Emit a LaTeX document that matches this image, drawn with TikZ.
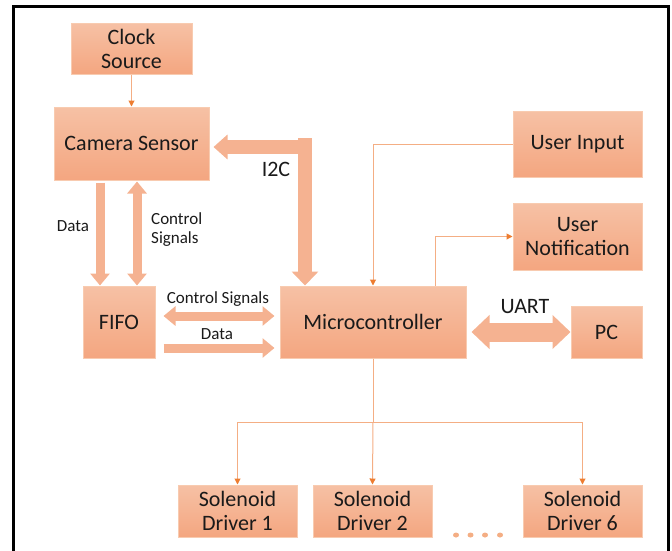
\documentclass[tikz,border=0pt]{standalone}
\usepackage{fontspec}
\setmainfont{Carlito}
\usetikzlibrary{arrows.meta,calc}

\definecolor{boxtop}{HTML}{F6C1A5}
\definecolor{boxbot}{HTML}{F4A680}
\definecolor{boxline}{HTML}{F8CBB0}
\definecolor{fatarrow}{HTML}{F5B291}
\definecolor{wire}{HTML}{F4AE84}
\definecolor{wiretip}{HTML}{ED7D31}
\definecolor{ink}{HTML}{1A1A1A}

\tikzset{
  block/.style={draw=boxline, line width=1pt, top color=boxtop, bottom color=boxbot,
    inner sep=0pt, text=ink, align=center, font=\fontsize{22}{24}\selectfont},
  lbl/.style={text=ink, inner sep=0pt, anchor=base, font=\fontsize{17}{19}\selectfont},
  biglbl/.style={text=ink, inner sep=0pt, anchor=base, font=\fontsize{22}{24}\selectfont},
  wireline/.style={draw=wire, line width=1pt, -{Triangle[length=6pt,width=6pt,color=wiretip]}},
  busline/.style={draw=wire, line width=1pt},
  fat/.style={draw=fatarrow, line width=9pt, -{Triangle[length=12pt,width=19pt]}},
  fatboth/.style={draw=fatarrow, line width=9pt, {Triangle[length=12pt,width=19pt]}-{Triangle[length=12pt,width=19pt]}},
}

\begin{document}
\begin{tikzpicture}[x=1pt,y=-1pt]
\useasboundingbox (0,0) rectangle (672,550);

% outer frame
\draw[line width=3pt] (13,6) rectangle (668.5,620);

% blocks
\node[block, minimum width=121pt, minimum height=51pt] (clk) at (131.5,48.5) {Clock\\Source};
\node[block, minimum width=155pt, minimum height=73pt] (cam) at (131.5,143.5) {Camera Sensor};
\node[block, minimum width=129pt, minimum height=66pt] (ui) at (577.5,144) {User Input};
\node[block, minimum width=129pt, minimum height=67pt] (un) at (577.5,236.5) {User\\Notification};
\node[block, minimum width=72pt, minimum height=72pt] (fifo) at (119,322) {FIFO};
\node[block, minimum width=186pt, minimum height=72pt] (mcu) at (373,322) {Microcontroller};
\node[block, minimum width=71pt, minimum height=52pt] (pc) at (606.5,332) {PC};
\node[block, minimum width=119pt, minimum height=52pt] (d1) at (237.5,511) {Solenoid\\Driver 1};
\node[block, minimum width=119pt, minimum height=52pt] (d2) at (372.5,511) {Solenoid\\Driver 2};
\node[block, minimum width=119pt, minimum height=52pt] (d6) at (582.5,511) {Solenoid\\Driver 6};

% clock feed
\draw[wireline] (clk.south) -- (cam.north);

% camera <-> FIFO
\draw[fat] ([xshift=-19pt]fifo.north |- cam.south) ++(0,2) -- ([xshift=-19pt]fifo.north);
\draw[fatboth] ([xshift=18pt]fifo.north |- cam.south) ++(0,1) -- ([xshift=18pt]fifo.north);

% I2C bus
\coordinate (i2ctop) at (305,138);
\draw[draw=fatarrow, line width=14pt, -{Triangle[length=14pt,width=26pt]}] (i2ctop) -- (i2ctop |- mcu.north);
\draw[draw=fatarrow, line width=14pt, -{Triangle[length=14pt,width=24pt]}] ([xshift=7pt]i2ctop) ++(0,9) -- ([xshift=4pt,yshift=-3.5pt]cam.east);

% FIFO <-> microcontroller
\draw[fatboth] ([xshift=8pt,yshift=6pt]fifo.east) -- ([xshift=-5pt,yshift=6pt]mcu.west);
\draw[fat] ([xshift=8pt,yshift=-26pt]fifo.east) -- ([xshift=-5pt,yshift=-26pt]mcu.west);

% UART
\draw[draw=fatarrow, line width=19pt, {Triangle[length=18pt,width=33pt]}-{Triangle[length=18pt,width=33pt]}]
  ([xshift=5pt]pc.west -| mcu.east) -- (pc.west);

% user input and notification
\draw[wireline] (ui.west) -| (mcu.north);
\draw[wireline] ([xshift=62pt]mcu.north) |- (un.west);

% solenoid driver bus
\coordinate (bus) at (mcu.south |- 0,422);
\draw[busline] (mcu.south) -- (bus);
\draw[wireline] (bus) -| (d1.north);
\draw[wireline] (bus) -- (d2.north);
\draw[wireline] (bus) -| (d6.north);

% ellipsis between drivers
\foreach \x in {456,470.5,485,500}
  \fill[wire] (\x,535) ellipse (3pt and 2.5pt);

% labels
\node[lbl] (ldata1) at (73,231) {Data};
\node[lbl, anchor=base west] (lctrl1) at (151,224) {Control};
\node[lbl, anchor=base west] (lctrl2) at (151,243) {Signals};
\node[biglbl] (li2c) at (276,176) {I2C};
\node[lbl] (lctrl3) at (218,303) {Control Signals};
\node[lbl] (ldata2) at (217,339) {Data};
\node[biglbl] (luart) at (525,313) {UART};
\end{tikzpicture}
\end{document}
